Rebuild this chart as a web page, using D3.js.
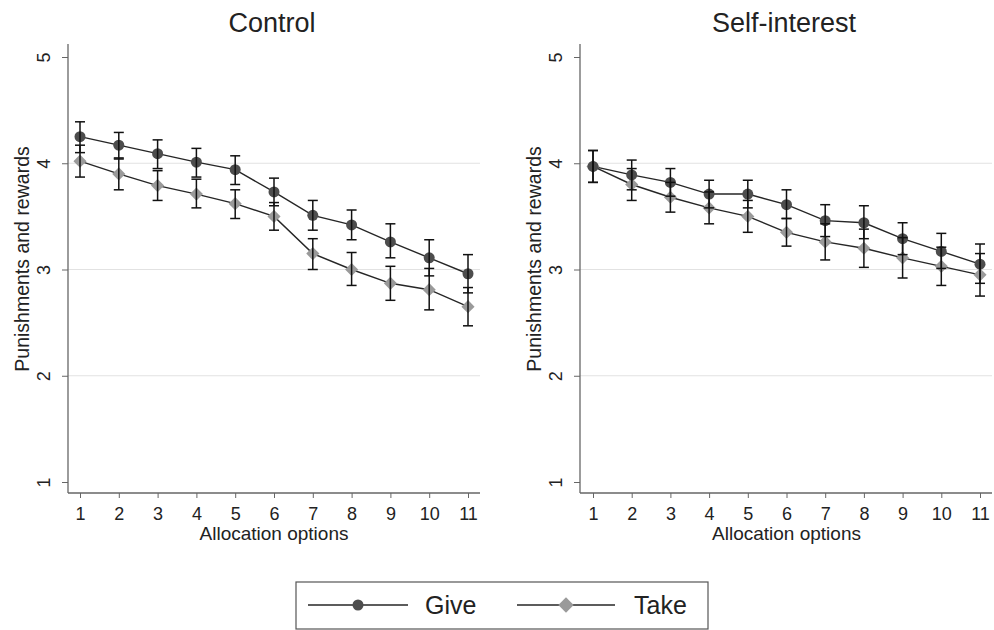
<!DOCTYPE html>
<html>
<head>
<meta charset="utf-8">
<script src="https://cdn.jsdelivr.net/npm/d3@7"></script>
<style>
  body { margin: 0; background: #fff; }
  text { font-family: "Liberation Sans", Arial, sans-serif; fill: #222; }
</style>
</head>
<body>
<script>
var w = 994;
var h = 630;

var options = [1, 2, 3, 4, 5, 6, 7, 8, 9, 10, 11];
var yTicks = [1, 2, 3, 4, 5];
var gridTicks = [2, 3, 4];

// Control panel
var controlGive   = [4.25, 4.17, 4.09, 4.01, 3.94, 3.73, 3.51, 3.42, 3.26, 3.11, 2.96];
var controlGiveLo = [4.10, 4.04, 3.95, 3.87, 3.80, 3.60, 3.37, 3.28, 3.11, 2.94, 2.78];
var controlGiveHi = [4.39, 4.29, 4.22, 4.14, 4.07, 3.86, 3.65, 3.56, 3.43, 3.28, 3.14];
var controlTake   = [4.02, 3.90, 3.79, 3.71, 3.62, 3.50, 3.15, 3.00, 2.87, 2.81, 2.65];
var controlTakeLo = [3.87, 3.75, 3.65, 3.58, 3.48, 3.37, 3.00, 2.85, 2.71, 2.62, 2.47];
var controlTakeHi = [4.17, 4.05, 3.93, 3.85, 3.75, 3.63, 3.29, 3.16, 3.03, 3.01, 2.83];

// Self-interest panel
var selfGive   = [3.97, 3.89, 3.82, 3.71, 3.71, 3.61, 3.46, 3.44, 3.29, 3.17, 3.05];
var selfGiveLo = [3.82, 3.75, 3.69, 3.58, 3.58, 3.48, 3.31, 3.29, 3.14, 3.01, 2.87];
var selfGiveHi = [4.12, 4.03, 3.95, 3.84, 3.84, 3.75, 3.61, 3.60, 3.44, 3.34, 3.24];
var selfTake   = [3.97, 3.80, 3.68, 3.58, 3.50, 3.35, 3.26, 3.20, 3.11, 3.03, 2.95];
var selfTakeLo = [3.82, 3.65, 3.54, 3.43, 3.35, 3.22, 3.09, 3.02, 2.92, 2.85, 2.75];
var selfTakeHi = [4.12, 3.95, 3.82, 3.73, 3.65, 3.48, 3.43, 3.38, 3.30, 3.21, 3.15];

var giveColor = '#4d4d4d';
var takeColor = '#9a9a9a';
var lineColor = '#262626';

var svg = d3.select('body')
   .append('svg')
   .attr('width', w)
   .attr('height', h);

var y = d3.scaleLinear().domain([1, 5]).range([482, 57]);
var plotTop = 44, plotBottom = 493;

var panels = [
   { title: 'Control', left: 68, right: 480, x0: 80, x1: 468,
     give: controlGive, giveLo: controlGiveLo, giveHi: controlGiveHi,
     take: controlTake, takeLo: controlTakeLo, takeHi: controlTakeHi },
   { title: 'Self-interest', left: 580, right: 992, x0: 593, x1: 980,
     give: selfGive, giveLo: selfGiveLo, giveHi: selfGiveHi,
     take: selfTake, takeLo: selfTakeLo, takeHi: selfTakeHi }
];

// square diamond (rotated square)
var diamond = d3.symbol().type(d3.symbolDiamond2).size(110);
var legDiamond = d3.symbol().type(d3.symbolDiamond2).size(150);

panels.forEach(function(p) {
   var x = d3.scaleLinear().domain([1, 11]).range([p.x0, p.x1]);
   var g = svg.append('g');

   // grid lines
   g.selectAll('line.grid')
      .data(gridTicks)
      .enter()
      .append('line')
      .attr('x1', p.left)
      .attr('x2', p.right)
      .attr('y1', function(d) { return y(d); })
      .attr('y2', function(d) { return y(d); })
      .attr('stroke', '#e2e2e2')
      .attr('stroke-width', 1);

   // y axis
   var yAxis = g.append('g')
      .attr('transform', 'translate(' + p.left + ',0)')
      .call(d3.axisLeft(y).tickValues(yTicks).tickSize(6).tickFormat(d3.format('d')));
   yAxis.select('.domain').remove();
   yAxis.selectAll('line').attr('stroke', '#666');
   yAxis.selectAll('text')
      .attr('transform', 'rotate(-90)')
      .attr('x', 0)
      .attr('y', -24)
      .attr('dy', '0.35em')
      .attr('text-anchor', 'middle')
      .style('font-size', '18px')
      .style('font-family', '"Liberation Sans", Arial, sans-serif')
      .attr('fill', '#333');
   g.append('line')
      .attr('x1', p.left).attr('x2', p.left)
      .attr('y1', plotTop).attr('y2', plotBottom)
      .attr('stroke', '#666').attr('stroke-width', 1.3);

   // x axis
   var xAxis = g.append('g')
      .attr('transform', 'translate(0,' + plotBottom + ')')
      .call(d3.axisBottom(x).tickValues(options).tickSize(5).tickPadding(9));
   xAxis.select('.domain').remove();
   xAxis.selectAll('line').attr('stroke', '#666');
   xAxis.selectAll('text')
      .style('font-size', '18px')
      .style('font-family', '"Liberation Sans", Arial, sans-serif')
      .attr('fill', '#333');
   g.append('line')
      .attr('x1', p.left).attr('x2', p.right)
      .attr('y1', plotBottom).attr('y2', plotBottom)
      .attr('stroke', '#666').attr('stroke-width', 1.3);

   // titles
   g.append('text')
      .attr('x', (p.left + p.right) / 2 - 2)
      .attr('y', 32)
      .attr('text-anchor', 'middle')
      .style('font-size', '27px')
      .text(p.title);
   g.append('text')
      .attr('x', (p.x0 + p.x1) / 2)
      .attr('y', 540)
      .attr('text-anchor', 'middle')
      .style('font-size', '19px')
      .text('Allocation options');
   g.append('text')
      .attr('transform', 'translate(' + (p.left - 39) + ',' + 259 + ') rotate(-90)')
      .attr('text-anchor', 'middle')
      .style('font-size', '19.5px')
      .text('Punishments and rewards');

   // series
   var series = [
      { vals: p.take, lo: p.takeLo, hi: p.takeHi, kind: 'take' },
      { vals: p.give, lo: p.giveLo, hi: p.giveHi, kind: 'give' }
   ];
   var line = d3.line()
      .x(function(d, i) { return x(options[i]); })
      .y(function(d) { return y(d); });

   series.forEach(function(s) {
      g.append('path')
         .datum(s.vals)
         .attr('d', line)
         .attr('fill', 'none')
         .attr('stroke', lineColor)
         .attr('stroke-width', 1.4);
   });

   series.forEach(function(s) {
      if (s.kind === 'give') {
         g.selectAll('circle.m')
            .data(s.vals)
            .enter()
            .append('circle')
            .attr('cx', function(d, i) { return x(options[i]); })
            .attr('cy', function(d) { return y(d); })
            .attr('r', 5.5)
            .attr('fill', giveColor);
      } else {
         g.selectAll('path.dm')
            .data(s.vals)
            .enter()
            .append('path')
            .attr('d', diamond)
            .attr('transform', function(d, i) {
               return 'translate(' + x(options[i]) + ',' + y(d) + ')';
            })
            .attr('fill', takeColor);
      }
   });

   // error bars
   series.forEach(function(s) {
      var eb = g.append('g')
         .attr('stroke', '#111')
         .attr('stroke-width', 1.5);
      options.forEach(function(o, i) {
         var cx = x(o);
         eb.append('line')
            .attr('x1', cx).attr('x2', cx)
            .attr('y1', y(s.lo[i])).attr('y2', y(s.hi[i]));
         [s.lo[i], s.hi[i]].forEach(function(v) {
            eb.append('line')
               .attr('x1', cx - 5).attr('x2', cx + 5)
               .attr('y1', y(v)).attr('y2', y(v));
         });
      });
   });
});

// legend
var leg = svg.append('g');
leg.append('rect')
   .attr('x', 296).attr('y', 582)
   .attr('width', 412).attr('height', 47)
   .attr('fill', '#fff')
   .attr('stroke', '#555')
   .attr('stroke-width', 1.2);
var legY = 605;
var legendItems = [
   { label: 'Give', x1: 308, x2: 408, tx: 425 },
   { label: 'Take', x1: 517, x2: 615, tx: 634 }
];
legendItems.forEach(function(d, i) {
   leg.append('line')
      .attr('x1', d.x1).attr('x2', d.x2)
      .attr('y1', legY).attr('y2', legY)
      .attr('stroke', lineColor).attr('stroke-width', 1.5);
   if (i === 0) {
      leg.append('circle')
         .attr('cx', (d.x1 + d.x2) / 2).attr('cy', legY)
         .attr('r', 5.5).attr('fill', giveColor);
   } else {
      leg.append('path')
         .attr('d', legDiamond)
         .attr('transform', 'translate(' + (d.x1 + d.x2) / 2 + ',' + legY + ')')
         .attr('fill', takeColor);
   }
   leg.append('text')
      .attr('x', d.tx).attr('y', legY + 9)
      .style('font-size', '25px')
      .text(d.label);
});
</script>
</body>
</html>
